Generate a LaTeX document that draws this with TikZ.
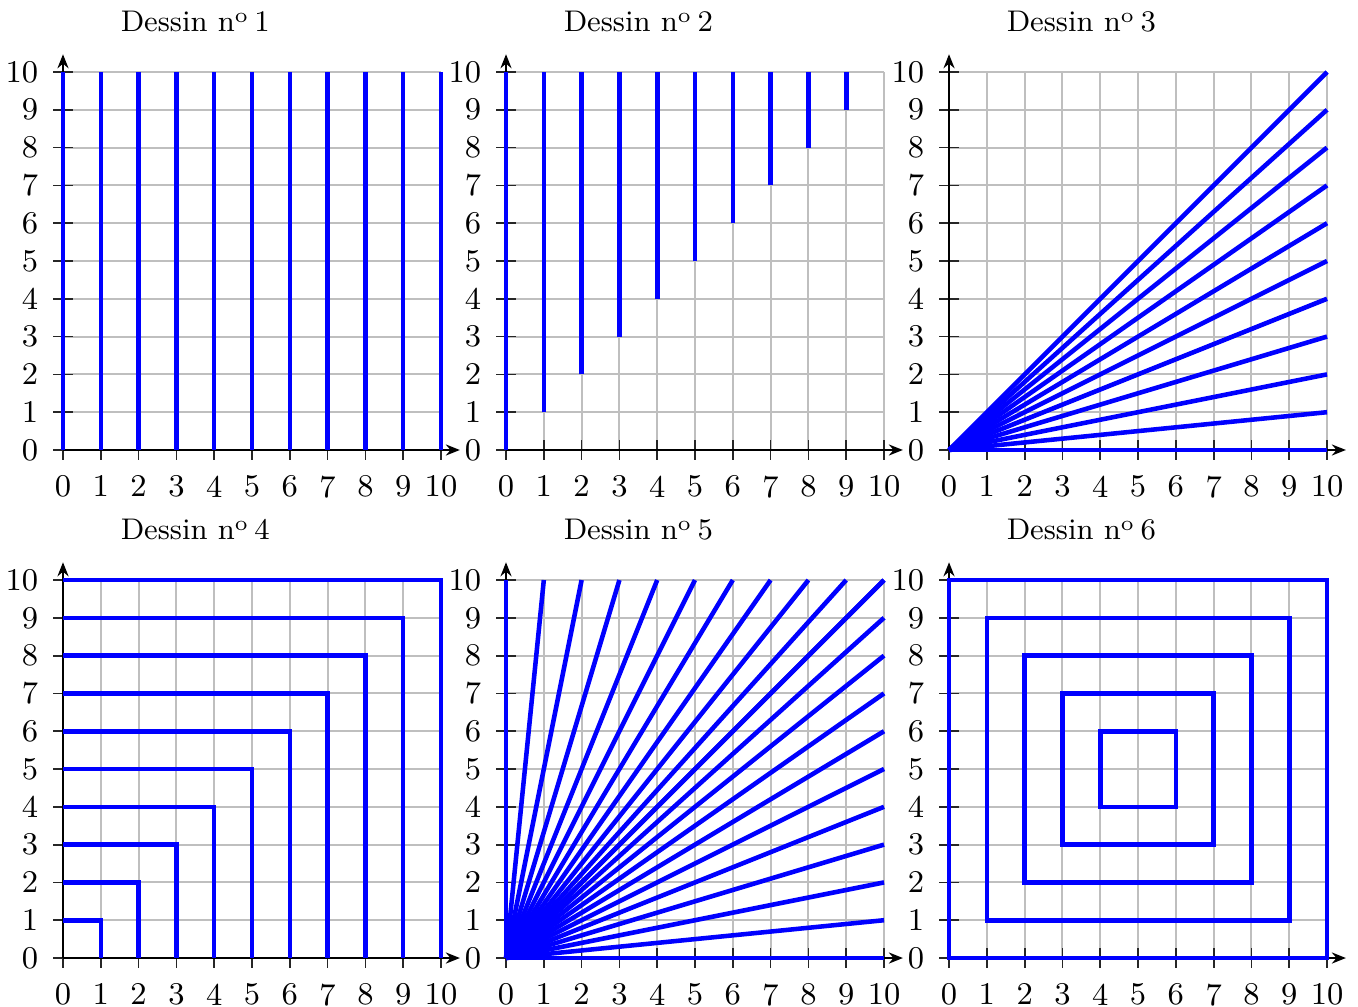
\documentclass[tikz,border=0pt]{standalone}
\usetikzlibrary{arrows.meta}

\begin{document}
\begin{tikzpicture}[x=0.378cm, y=0.378cm,
  grille/.style={lightgray, line width=0.6pt},
  axe/.style={-{Stealth[length=1.4mm, width=1.1mm]}, line width=0.7pt},
  graduation/.style={line width=0.5pt, black!85},
  etiquette/.style={font=\fontsize{9}{11}\selectfont, inner sep=0pt},
  titre/.style={font=\fontsize{8.5}{10}\selectfont, anchor=base},
  trait/.style={blue, line width=1.3pt}
]
  \useasboundingbox (-1.667,-14.735) rectangle (34.26,11.905);

  % repere commun aux six dessins
  \foreach \k/\dx/\dy in {1/0/0, 2/11.72/0, 3/23.44/0, 4/0/-13.44, 5/11.72/-13.44, 6/23.44/-13.44} {
    \begin{scope}[shift={(\dx,\dy)}]
      \foreach \i in {0,...,10} {
        \draw[grille] (\i,0) -- (\i,10);
        \draw[grille] (0,\i) -- (10,\i);
      }
      \foreach \i in {0,...,10} {
        \draw[graduation] (\i,-0.26) -- (\i,0.26);
        \draw[graduation] (-0.26,\i) -- (0.26,\i);
        \node[etiquette, anchor=north] (x\k-\i) at (\i,-0.66) {\i};
        \node[etiquette, anchor=east] (y\k-\i) at (-0.64,\i) {\i};
      }
      \draw[axe] (0,0) -- (10.5,0);
      \draw[axe] (0,0) -- (0,10.47);
      \node[titre] (titre\k) at (3.5,11.06) {Dessin n\textsuperscript{o}\,\k};
    \end{scope}
  }

  % Dessin 1
  \foreach \i in {0,...,10}
    \draw[trait] (\i,0) -- (\i,10);

  % Dessin 2
  \begin{scope}[shift={(11.72,0)}]
    \foreach \i in {0,...,10}
      \draw[trait] (\i,\i) -- (\i,10);
  \end{scope}

  % Dessin 3
  \begin{scope}[shift={(23.44,0)}]
    \foreach \i in {0,...,10}
      \draw[trait] (0,0) -- (10,\i);
  \end{scope}

  % Dessin 4
  \begin{scope}[shift={(0,-13.44)}]
    \foreach \i in {1,...,10}
      \draw[trait] (0,\i) -- (\i,\i) -- (\i,0);
  \end{scope}

  % Dessin 5
  \begin{scope}[shift={(11.72,-13.44)}]
    \foreach \i in {0,...,10} {
      \draw[trait] (0,0) -- (\i,10);
      \draw[trait] (0,0) -- (10,\i);
    }
  \end{scope}

  % Dessin 6
  \begin{scope}[shift={(23.44,-13.44)}]
    \foreach \i in {0,...,5}
      \draw[trait] (\i,\i) rectangle ({10-\i},{10-\i});
  \end{scope}
\end{tikzpicture}
\end{document}
